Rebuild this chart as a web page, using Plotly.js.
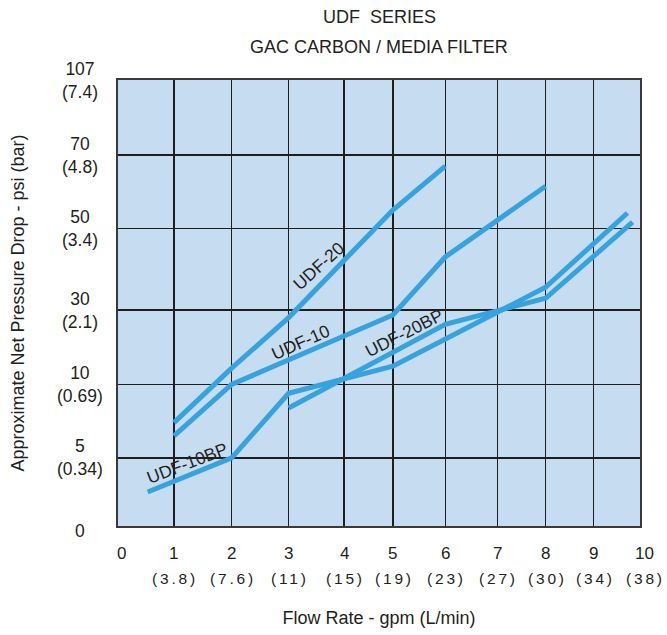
<!DOCTYPE html>
<html>
<head>
<meta charset="utf-8">
<script src="https://cdn.plot.ly/plotly-3.0.1.min.js"></script>
<style>html,body{margin:0;padding:0;background:#fff;}#chart{width:667px;height:635px;}</style>
</head>
<body>
<div id="chart"></div>
<script>
// ---- Axis tick values and labels ----
const gpmTicks = [0, 1, 2, 3, 4, 5, 6, 7, 8, 9, 10];
const lpmLabels = ['', '(3.8)', '(7.6)', '(11)', '(15)', '(19)', '(23)', '(27)', '(30)', '(34)', '(38)'];
const psiTicks = [0, 5, 10, 30, 50, 70, 107];
const barLabels = ['', '(0.34)', '(0.69)', '(2.1)', '(3.4)', '(4.8)', '(7.4)'];

// ---- Series (flow gpm, pressure drop psi) ----
const udf20Gpm = [1, 2, 3, 5, 6];
const udf20Psi = [7.4, 14.4, 28, 55, 67];
const udf10Gpm = [1, 2, 5, 6, 8];
const udf10Psi = [6.5, 10, 28.7, 43, 61.5];
const udf10bpGpm = [0.53, 2, 3, 5, 8, 9.73];
const udf10bpPsi = [2.5, 5, 9.4, 14.9, 35.6, 54.2];
const udf20bpGpm = [3, 6, 8, 9.84];
const udf20bpPsi = [8.4, 26.2, 32.9, 51.7];

// ---- Non-uniform axis geometry of the original chart (fraction of axis length per tick) ----
const xTickFrac = [0, 0.1072, 0.2177, 0.3269, 0.4332, 0.5266, 0.6270, 0.7266, 0.8191, 0.9110, 1];
const yTickFrac = [0, 0.1526, 0.3173, 0.4840, 0.6673, 0.8317, 1];

function warp(v, vals, frac) {
  for (let i = 0; i < vals.length - 1; i++) {
    if (v <= vals[i + 1] || i === vals.length - 2) {
      return frac[i] + (v - vals[i]) / (vals[i + 1] - vals[i]) * (frac[i + 1] - frac[i]);
    }
  }
}
const wx = v => warp(v, gpmTicks, xTickFrac);
const wy = v => warp(v, psiTicks, yTickFrac);

const lineColor = '#36a3dd';
const font = 'Liberation Sans, Arial, Helvetica, sans-serif';
const txt = '#231f20';

function series(name, gpm, psi) {
  return {
    type: 'scatter', mode: 'lines', name: name,
    x: gpm.map(wx), y: psi.map(wy),
    customdata: gpm.map((g, i) => [g, psi[i]]),
    hovertemplate: name + '<br>%{customdata[0]} gpm, %{customdata[1]} psi<extra></extra>',
    line: {color: lineColor, width: 5},
    showlegend: false
  };
}

const data = [
  series('UDF-20', udf20Gpm, udf20Psi),
  series('UDF-10', udf10Gpm, udf10Psi),
  series('UDF-10BP', udf10bpGpm, udf10bpPsi),
  series('UDF-20BP', udf20bpGpm, udf20bpPsi)
];

const annotations = [];
// titles
annotations.push({xref: 'paper', yref: 'paper', x: 0.5, y: 1, yshift: 63, xanchor: 'center', yanchor: 'middle',
  text: 'UDF\u00a0 SERIES', showarrow: false, font: {family: font, size: 18, color: txt}});
annotations.push({xref: 'paper', yref: 'paper', x: 0.5, y: 1, yshift: 33, xanchor: 'center', yanchor: 'middle',
  text: 'GAC CARBON / MEDIA FILTER', showarrow: false, font: {family: font, size: 18, color: txt}});

// x tick labels (two rows)
gpmTicks.forEach((g, i) => {
  let xs = 0;
  if (i === 0) xs = 3;
  if (i === gpmTicks.length - 1) xs = 4;
  annotations.push({xref: 'x', yref: 'paper', x: wx(g), y: 0, yshift: -27, xshift: xs, xanchor: 'center', yanchor: 'middle',
    text: String(g), showarrow: false, font: {family: font, size: 17, color: txt}});
  if (lpmLabels[i]) {
    annotations.push({xref: 'x', yref: 'paper', x: wx(g), y: 0, yshift: -52, xshift: xs + 1.5, xanchor: 'center', yanchor: 'middle',
      text: '<span style="letter-spacing:2.8px">' + lpmLabels[i] + '</span>', showarrow: false,
      font: {family: font, size: 15.5, color: txt}});
  }
});

// y tick labels (centered, two lines)
psiTicks.forEach((p, i) => {
  const t = barLabels[i] ? (p + '<br>' + barLabels[i]) : String(p);
  annotations.push({xref: 'paper', yref: 'y', x: -0.0733, y: wy(p), yshift: barLabels[i] ? 0 : -5,
    xanchor: 'center', yanchor: 'middle', text: t, showarrow: false, align: 'center',
    font: {family: font, size: 17.5, color: txt}});
});

// curve labels
const curveLabels = [
  {text: 'UDF-20', g: 3.54, p: 40.8, a: -42},
  {text: 'UDF-10', g: 3.23, p: 21.4, a: -24},
  {text: 'UDF-20BP', g: 5.22, p: 23.8, a: -27},
  {text: 'UDF-10BP', g: 1.24, p: 4.6, a: -21}
];
curveLabels.forEach(c => annotations.push({xref: 'x', yref: 'y', x: wx(c.g), y: wy(c.p), textangle: c.a,
  text: c.text, showarrow: false, font: {family: font, size: 17.5, color: txt}}));

const layout = {
  width: 667, height: 635,
  margin: {l: 118.3, r: 26.5, t: 80, b: 109.3, pad: 0},
  paper_bgcolor: '#ffffff',
  plot_bgcolor: '#c5dcf1',
  font: {family: font, color: txt},
  showlegend: false,
  xaxis: {
    range: [0, 1], tickmode: 'array', tickvals: xTickFrac, showticklabels: false,
    showgrid: true, gridcolor: '#1e1e1e', gridwidth: 1.5, zeroline: false,
    showline: true, mirror: true, linecolor: '#3a3a3a', linewidth: 2, ticks: '', fixedrange: true,
    title: {text: 'Flow Rate - gpm (L/min)', font: {family: font, size: 18, color: txt}, standoff: 84.5}
  },
  yaxis: {
    range: [0, 1], tickmode: 'array', tickvals: yTickFrac, showticklabels: false,
    showgrid: true, gridcolor: '#1e1e1e', gridwidth: 1.5, zeroline: false,
    showline: true, mirror: true, linecolor: '#3a3a3a', linewidth: 2, ticks: '', fixedrange: true,
    title: {text: 'Approximate Net Pressure Drop - psi (bar)', font: {family: font, size: 18, color: txt}, standoff: 87}
  },
  annotations: annotations
};

Plotly.newPlot('chart', data, layout, {displayModeBar: false, staticPlot: true});
</script>
</body>
</html>
